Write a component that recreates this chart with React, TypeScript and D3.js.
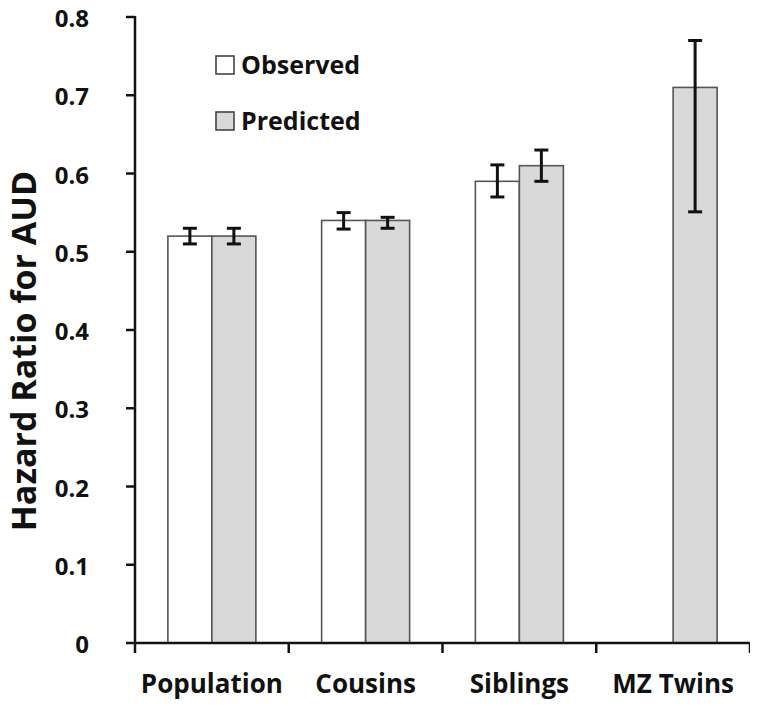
import React from "react";
import * as d3 from "d3";

const categories = ["Population", "Cousins", "Siblings", "MZ Twins"];
const seriesNames = ["Observed", "Predicted"];
const observed: (number | null)[] = [0.52, 0.54, 0.59, null];
const observedLo: (number | null)[] = [0.51, 0.529, 0.57, null];
const observedHi: (number | null)[] = [0.53, 0.55, 0.611, null];
const predicted: number[] = [0.52, 0.54, 0.61, 0.71];
const predictedLo: number[] = [0.51, 0.53, 0.59, 0.551];
const predictedHi: number[] = [0.53, 0.544, 0.63, 0.77];
const yTicks = [0, 0.1, 0.2, 0.3, 0.4, 0.5, 0.6, 0.7, 0.8];
const fills = ["#ffffff", "#d9d9d9"];

const FONT = "'Open Sans', sans-serif";

export default function App() {
  const W = 758, H = 710;
  const left = 135, right = 750, top = 17, bottom = 643;
  const y = d3.scaleLinear().domain([0, 0.8]).range([bottom, top]);
  const p = 0.4277;
  const x0 = d3.scaleBand<string>().domain(categories).range([left, right]).paddingInner(p).paddingOuter(p / 2);
  const x1 = d3.scaleBand<string>().domain(seriesNames).range([0, x0.bandwidth()]);
  const series = [
    { name: "Observed", vals: observed, lo: observedLo, hi: observedHi },
    { name: "Predicted", vals: predicted, lo: predictedLo, hi: predictedHi },
  ];
  const cap = 7;
  return (
    <div style={{ margin: -8 }}>
      <svg width={W} height={H} style={{ display: "block", background: "#fff" }} fontFamily={FONT}>
        {series.map((s, si) =>
          categories.map((c, ci) => {
            const v = s.vals[ci];
            if (v == null) return null;
            const bx = (x0(c) as number) + (x1(s.name) as number);
            return (
              <rect key={s.name + c} x={bx} y={y(v)} width={x1.bandwidth()} height={y(0) - y(v)}
                fill={fills[si]} stroke="#555" strokeWidth={1.6} />
            );
          })
        )}
        {series.map((s) =>
          categories.map((c, ci) => {
            const lo = s.lo[ci], hi = s.hi[ci];
            if (lo == null || hi == null) return null;
            const cx = (x0(c) as number) + (x1(s.name) as number) + x1.bandwidth() / 2;
            return (
              <g key={"e" + s.name + c} stroke="#111" strokeWidth={3}>
                <line x1={cx} x2={cx} y1={y(hi)} y2={y(lo)} />
                <line x1={cx - cap} x2={cx + cap} y1={y(hi)} y2={y(hi)} />
                <line x1={cx - cap} x2={cx + cap} y1={y(lo)} y2={y(lo)} />
              </g>
            );
          })
        )}
        <line x1={left} x2={left} y1={y(0.8) - 1} y2={bottom + 1} stroke="#111" strokeWidth={2.5} />
        {yTicks.map((t) => (
          <g key={"yt" + t}>
            <line x1={left - 9} x2={left} y1={y(t)} y2={y(t)} stroke="#111" strokeWidth={2.5} />
            <text x={89} y={y(t) + 10} textAnchor="end" fontSize={24} fontWeight={700} fill="#111">
              {t === 0 ? "0" : d3.format(".1f")(t)}
            </text>
          </g>
        ))}
        <line x1={left - 1} x2={right + 1} y1={bottom} y2={bottom} stroke="#111" strokeWidth={2.5} />
        {[...categories.map((c) => (x0(c) as number) - (x0.step() * p) / 2), right].map((tx, i) => (
          <line key={"xt" + i} x1={tx} x2={tx} y1={bottom} y2={bottom + 10} stroke="#111" strokeWidth={2.5} />
        ))}
        {categories.map((c) => (
          <text key={"xl" + c} x={(x0(c) as number) + x0.bandwidth() / 2} y={693} textAnchor="middle"
            fontSize={26} fontWeight={700} fill="#111">
            {c}
          </text>
        ))}
        <text transform={`translate(36,351) rotate(-90)`} textAnchor="middle"
          fontSize={34} fontWeight={700} fill="#111">
          Hazard Ratio for AUD
        </text>
        {seriesNames.map((n, i) => (
          <g key={"lg" + n} transform={`translate(216,${65 + i * 56})`}>
            <rect x={0} y={-9} width={18} height={18} fill={fills[i]} stroke="#444" strokeWidth={1.6} />
            <text x={25} y={9} fontSize={25} fontWeight={700} fill="#111">{n}</text>
          </g>
        ))}
      </svg>
    </div>
  );
}
